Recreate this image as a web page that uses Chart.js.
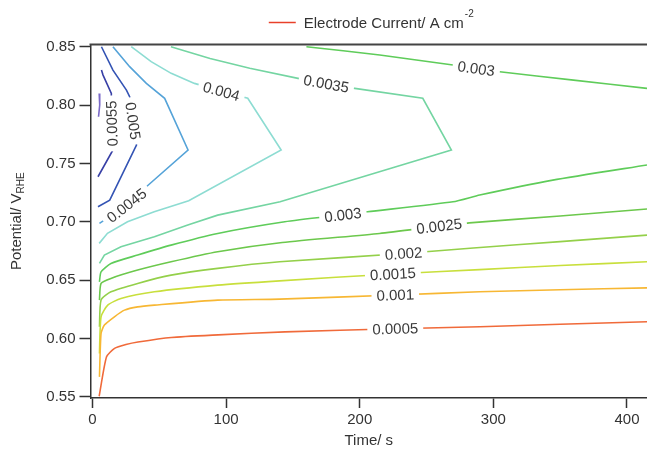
<!DOCTYPE html>
<html>
<head>
<meta charset="utf-8">
<script src="https://cdn.jsdelivr.net/npm/chart.js@4.4.1/dist/chart.umd.min.js"></script>
<style>
  html, body { margin: 0; padding: 0; background: #fff; }
  #wrap { width: 647px; height: 450px; }
</style>
</head>
<body>
<div id="wrap"><canvas id="chart" width="647" height="450"></canvas></div>
<script>
// contour paths: time (s) and potential (V)
const t0005 = [5, 10.5, 16.5, 25, 34, 59, 94, 144, 226.6, 290, 350, 415];
const v0005 = [0.5505, 0.5843, 0.5915, 0.5948, 0.5970, 0.6009, 0.6031, 0.6057, 0.6084, 0.6100, 0.6122, 0.6143];

const t001 = [5.2, 6.4, 8.9, 16.4, 23.9, 33.8, 46.3, 93.7, 140, 226.6, 289.7, 350, 415];
const v001 = [0.5671, 0.6043, 0.6115, 0.6186, 0.6243, 0.6271, 0.6286, 0.6329, 0.6337, 0.6373, 0.6400, 0.6418, 0.6434];

const t0015 = [5.2, 6.4, 11.4, 21.3, 46.3, 93.7, 140, 224.8, 289.7, 350, 415];
const v0015 = [0.5872, 0.6186, 0.6286, 0.6343, 0.6400, 0.6457, 0.6494, 0.6553, 0.6590, 0.6625, 0.6657];

const t002 = [5.2, 6.4, 13.8, 33.8, 58.8, 93.7, 140, 232.8, 285, 350, 415];
const v002 = [0.6100, 0.6329, 0.6400, 0.6472, 0.6543, 0.6601, 0.6657, 0.6728, 0.6775, 0.6830, 0.6886];

const t0025 = [5.2, 6.4, 13.8, 33.8, 58.8, 93.7, 142, 214.8, 259.4, 282, 350, 415];
const v0025 = [0.6329, 0.6472, 0.6515, 0.6586, 0.6657, 0.6743, 0.6822, 0.6900, 0.6962, 0.6991, 0.7050, 0.7110];

const t003low = [5.2, 6.4, 13.8, 33.8, 58.8, 93.7, 143.9, 187.4, 205.8, 269.8, 289.8, 344.5, 415];
const v003low = [0.6486, 0.6571, 0.6643, 0.6715, 0.6800, 0.6900, 0.7000, 0.7060, 0.7086, 0.7171, 0.7229, 0.7357, 0.7487];

const t003up = [160.1, 215, 269.8, 287.2, 304.8, 360, 415];
const v003up = [0.8500, 0.8429, 0.8343, 0.8313, 0.8286, 0.8214, 0.8143];

const t0035 = [5.2, 8.9, 21.3, 46.3, 71.3, 93.7, 140.4, 268.6, 247.2, 196.3, 175, 153.8, 117.7, 88, 58.7];
const v0035 = [0.6643, 0.6715, 0.6786, 0.6871, 0.6972, 0.7057, 0.7171, 0.7615, 0.8058, 0.8143, 0.8183, 0.8229, 0.8315, 0.8400, 0.8500];

const t004 = [5.0, 11.2, 26.2, 46.2, 72, 141.2, 116.2, 96.5, 76.3, 58.9, 43.9, 29];
const v004 = [0.6815, 0.6901, 0.7000, 0.7086, 0.7180, 0.7615, 0.8058, 0.8118, 0.8186, 0.8272, 0.8372, 0.8500];

const t0045 = [5.2, 25.5, 40.3, 71.5, 54, 40.3, 27.8, 15.3];
const v0045 = [0.6986, 0.7140, 0.7300, 0.7615, 0.8058, 0.8186, 0.8329, 0.8500];

const t005 = [4.1, 12.9, 32.9, 30.35, 27.8, 25.4, 15.3, 6.7];
const v005 = [0.7129, 0.7186, 0.7657, 0.7865, 0.8072, 0.8129, 0.8300, 0.8500];

const t0055 = [4.1, 15.3, 14.5, 14.1, 7.9, 6.7];
const v0055 = [0.7386, 0.7615, 0.7843, 0.8100, 0.8257, 0.8300];

const t006 = [5.0, 5.6, 5.2, 4.5];
const v006 = [0.8100, 0.8060, 0.8000, 0.7900];

const xTicks = [0, 100, 200, 300, 400];
const yTicks = [0.55, 0.60, 0.65, 0.70, 0.75, 0.80, 0.85];

const FONT = '"Liberation Sans", Arial, Helvetica, sans-serif';
const INK = '#333';

// at = index of the path point where the inline label sits
const contours = [
  { text: '0.0005', t: t0005, v: v0005, color: '#f06a3a', at: 8 },
  { text: '0.001', t: t001, v: v001, color: '#f7b733', at: 9 },
  { text: '0.0015', t: t0015, v: v0015, color: '#c8df3c', at: 7 },
  { text: '0.002', t: t002, v: v002, color: '#94d04a', at: 7 },
  { text: '0.0025', t: t0025, v: v0025, color: '#6cc84c', at: 8 },
  { text: '0.003', t: t003low, v: v003low, color: '#5fcc5a', at: 7 },
  { text: '0.003', t: t003up, v: v003up, color: '#5fcc5a', at: 3 },
  { text: '0.0035', t: t0035, v: v0035, color: '#74d5a2', at: 10 },
  { text: '0.004', t: t004, v: v004, color: '#8ddcd2', at: 7 },
  { text: '0.0045', t: t0045, v: v0045, color: '#55a3d8', at: 1 },
  { text: '0.005', t: t005, v: v005, color: '#3454b4', at: 3 },
  { text: '0.0055', t: t0055, v: v0055, color: '#3840a6', at: 2, flip: true },
  { text: '', t: t006, v: v006, color: '#7a68c8', at: null },
];

// smooth only the paths that run left to right; the folded ones keep their corners
const isMonotone = (t) => t.every((x, i) => i === 0 || x > t[i - 1]);

const datasets = contours.map((c) => ({
  label: c.text,
  data: c.t.map((x, i) => ({ x, y: c.v[i] })),
  borderColor: c.color,
  borderWidth: 1.6,
  pointRadius: 0,
  fill: false,
  tension: isMonotone(c.t) ? 0.2 : 0,
}));

const contourLabels = {
  id: 'contourLabels',
  afterDatasetsDraw(chart) {
    const ctx = chart.ctx;
    contours.forEach((c, i) => {
      if (c.at === null) return;
      const pts = chart.getDatasetMeta(i).data;
      const p = pts[c.at];
      const a = pts[Math.max(c.at - 1, 0)];
      const b = pts[Math.min(c.at + 1, pts.length - 1)];
      let ang = Math.atan2(b.y - a.y, b.x - a.x);
      if (ang > Math.PI / 2) ang -= Math.PI;
      if (ang <= -Math.PI / 2) ang += Math.PI;
      if (c.flip) ang += Math.PI;
      ctx.save();
      ctx.translate(p.x, p.y);
      ctx.rotate(ang);
      ctx.font = '15px ' + FONT;
      const w = ctx.measureText(c.text).width;
      ctx.fillStyle = '#fff';
      ctx.fillRect(-w / 2 - 5, -6, w + 10, 12);
      ctx.fillStyle = '#3a3a3a';
      ctx.textAlign = 'center';
      ctx.textBaseline = 'middle';
      ctx.fillText(c.text, 0, 1);
      ctx.restore();
    });
  },
};

const frame = {
  id: 'frame',
  afterDraw(chart) {
    const ctx = chart.ctx;
    const area = chart.chartArea;
    ctx.save();
    // top frame line
    ctx.strokeStyle = '#444';
    ctx.lineWidth = 2;
    ctx.beginPath();
    ctx.moveTo(area.left - 1, area.top);
    ctx.lineTo(area.right, area.top);
    ctx.stroke();

    // y title with subscript
    ctx.fillStyle = INK;
    ctx.font = '15px ' + FONT;
    const main = 'Potential/ V';
    const w1 = ctx.measureText(main).width;
    ctx.font = '10px ' + FONT;
    const w2 = ctx.measureText('RHE').width;
    ctx.translate(16, (area.top + area.bottom) / 2);
    ctx.rotate(-Math.PI / 2);
    ctx.textAlign = 'left';
    ctx.textBaseline = 'alphabetic';
    ctx.font = '15px ' + FONT;
    ctx.fillText(main, -(w1 + w2) / 2, 5);
    ctx.font = '10px ' + FONT;
    ctx.fillText('RHE', -(w1 + w2) / 2 + w1, 8);
    ctx.restore();

    // legend
    ctx.save();
    ctx.font = '15px ' + FONT;
    const txt = 'Electrode Current/ A cm';
    const tw = ctx.measureText(txt).width;
    ctx.font = '10px ' + FONT;
    const sw = ctx.measureText('-2').width;
    const total = 27 + 8 + tw + sw;
    const x0 = (area.left + area.right) / 2 - total / 2 + 2;
    const ly = 22.5;
    ctx.strokeStyle = '#e8402a';
    ctx.lineWidth = 1.5;
    ctx.beginPath();
    ctx.moveTo(x0, ly);
    ctx.lineTo(x0 + 27, ly);
    ctx.stroke();
    ctx.fillStyle = INK;
    ctx.textAlign = 'left';
    ctx.textBaseline = 'middle';
    ctx.font = '15px ' + FONT;
    ctx.fillText(txt, x0 + 35, ly + 1);
    ctx.textBaseline = 'alphabetic';
    ctx.font = '10px ' + FONT;
    ctx.fillText('-2', x0 + 35 + tw + 1, 17);
    ctx.restore();
  },
};

new Chart(document.getElementById('chart'), {
  type: 'line',
  data: { datasets },
  options: {
    responsive: false,
    animation: false,
    layout: { padding: { top: 44.4, right: 0, bottom: 0, left: 0 } },
    plugins: {
      legend: { display: false },
      tooltip: { enabled: false },
    },
    scales: {
      x: {
        type: 'linear',
        min: -1.5,
        max: 415,
        afterBuildTicks: (s) => { s.ticks = xTicks.map((value) => ({ value })); },
        afterFit: (s) => { s.height = 52; },
        grid: { drawOnChartArea: false, drawTicks: true, tickLength: 10, tickWidth: 1.5, tickColor: INK },
        border: { display: true, color: INK, width: 1.5 },
        ticks: {
          autoSkip: false, maxRotation: 0, padding: 3,
          color: INK, font: { family: FONT, size: 15 },
          callback: (v) => String(v),
        },
        title: {
          display: true, text: 'Time/ s', color: INK,
          font: { family: FONT, size: 15 }, padding: { top: 0, bottom: 0 },
        },
      },
      y: {
        type: 'linear',
        min: 0.549,
        max: 0.852,
        afterBuildTicks: (s) => { s.ticks = yTicks.map((value) => ({ value })); },
        afterFit: (s) => { s.width = 90.5; },
        grid: { drawOnChartArea: false, drawTicks: true, tickLength: 11, tickWidth: 1.5, tickColor: INK },
        border: { display: true, color: INK, width: 1.5 },
        ticks: {
          autoSkip: false, padding: 4,
          color: INK, font: { family: FONT, size: 15 },
          callback: (v) => v.toFixed(2),
        },
      },
    },
  },
  plugins: [contourLabels, frame],
});
</script>
</body>
</html>
